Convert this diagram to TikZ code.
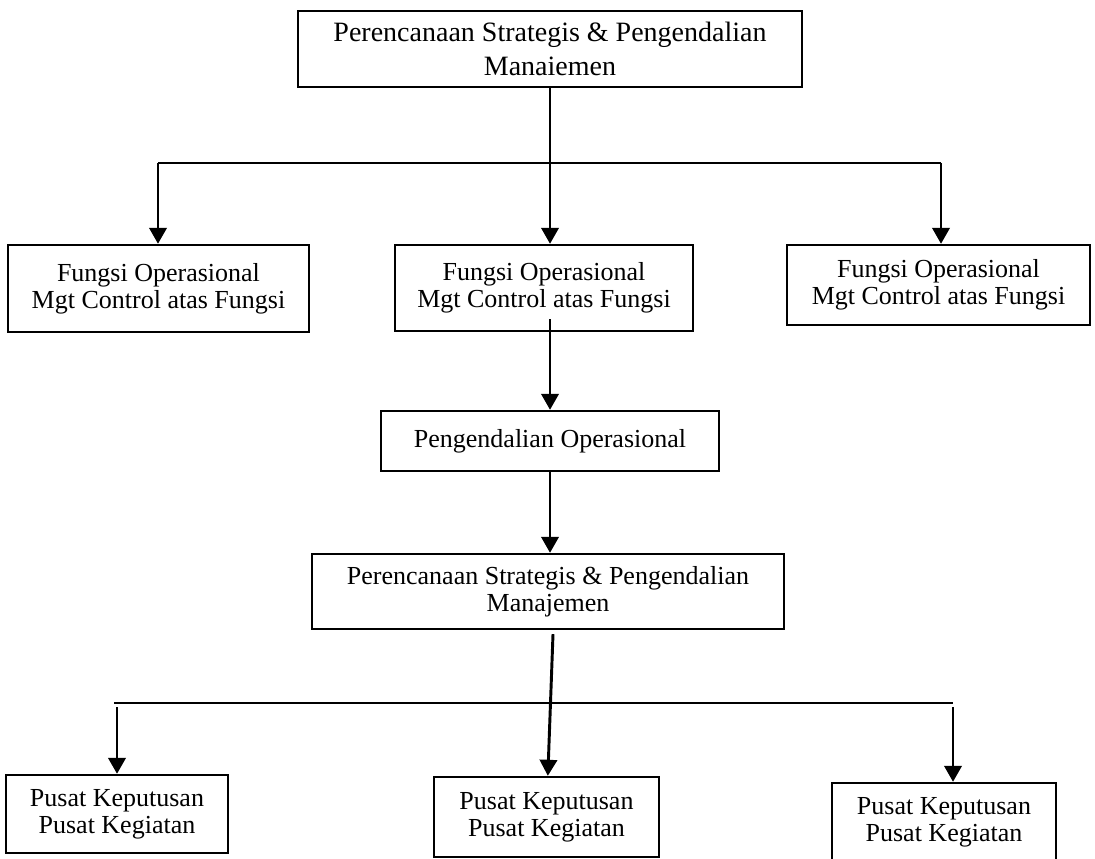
\documentclass[tikz,border=0pt]{standalone}
\usepackage{fontspec}
\setmainfont{Liberation Serif}
\usetikzlibrary{arrows.meta}
\begin{document}
\begin{tikzpicture}[x=0.75pt,y=-0.75pt,
  box/.style={draw, line width=1.8pt, inner sep=0pt, align=center,
              font=\fontsize{19.5}{20.5}\selectfont},
  arr/.style={line width=2.2pt, -{Triangle[width=13pt,length=12pt]}},
  bar/.style={line width=1.8pt}]
\useasboundingbox (0,0) rectangle (1095,859);
\clip (0,0) rectangle (1095,859);

% boxes
\node[box, minimum width=378pt, minimum height=57pt,
      font=\fontsize{21}{25}\selectfont] (top) at (550,49)
      {Perencanaan Strategis \& Pengendalian\\Manaiemen};
\node[box, minimum width=225.75pt, minimum height=65.25pt] (f1) at (158.5,288.5)
      {Fungsi Operasional\\Mgt Control atas Fungsi};
\node[box, minimum width=223.5pt, minimum height=64.5pt] (f2) at (544,288)
      {Fungsi Operasional\\Mgt Control atas Fungsi};
\node[box, minimum width=227.25pt, minimum height=60pt] (f3) at (938.5,285)
      {Fungsi Operasional\\Mgt Control atas Fungsi};
\node[box, minimum width=253.5pt, minimum height=45pt] (po) at (550,441)
      {Pengendalian Operasional};
\node[box, minimum width=354pt, minimum height=56.25pt] (mid) at (548,591.5)
      {Perencanaan Strategis \& Pengendalian\\Manajemen};
\node[box, minimum width=166.5pt, minimum height=58.5pt] (b1) at (117,814)
      {Pusat Keputusan\\Pusat Kegiatan};
\node[box, minimum width=168.75pt, minimum height=60pt] (b2) at (546.5,817)
      {Pusat Keputusan\\Pusat Kegiatan};
\node[box, minimum width=168pt, minimum height=59.25pt] (b3) at (944,822.5)
      {Pusat Keputusan\\Pusat Kegiatan};

% upper branching
\coordinate (tl) at (158,163);
\coordinate (tr) at (941,163);
\draw[bar] (tl) -- (tr);
\draw[arr] (top.south) -- (top.south |- f2.north);
\draw[arr] (tl) -- (tl |- f1.north);
\draw[arr] (tr) -- (tr |- f3.north);

% middle chain
\draw[arr] ([yshift=9.75pt]po.north |- f2.south) -- (po.north);
\draw[arr] (po.south) -- (po.south |- mid.north);

% lower branching
\coordinate (bl) at (114,703);
\coordinate (br) at (953,703);
\draw[bar] (bl) -- (br);
\draw[arr] ([xshift=3.75pt,yshift=-3pt]mid.south) -- ([xshift=1pt]b2.north);
\draw[arr] (117,707) -- (b1.north);
\draw[arr] (br |- 0,707) -- (br |- b3.north);
\end{tikzpicture}
\end{document}
